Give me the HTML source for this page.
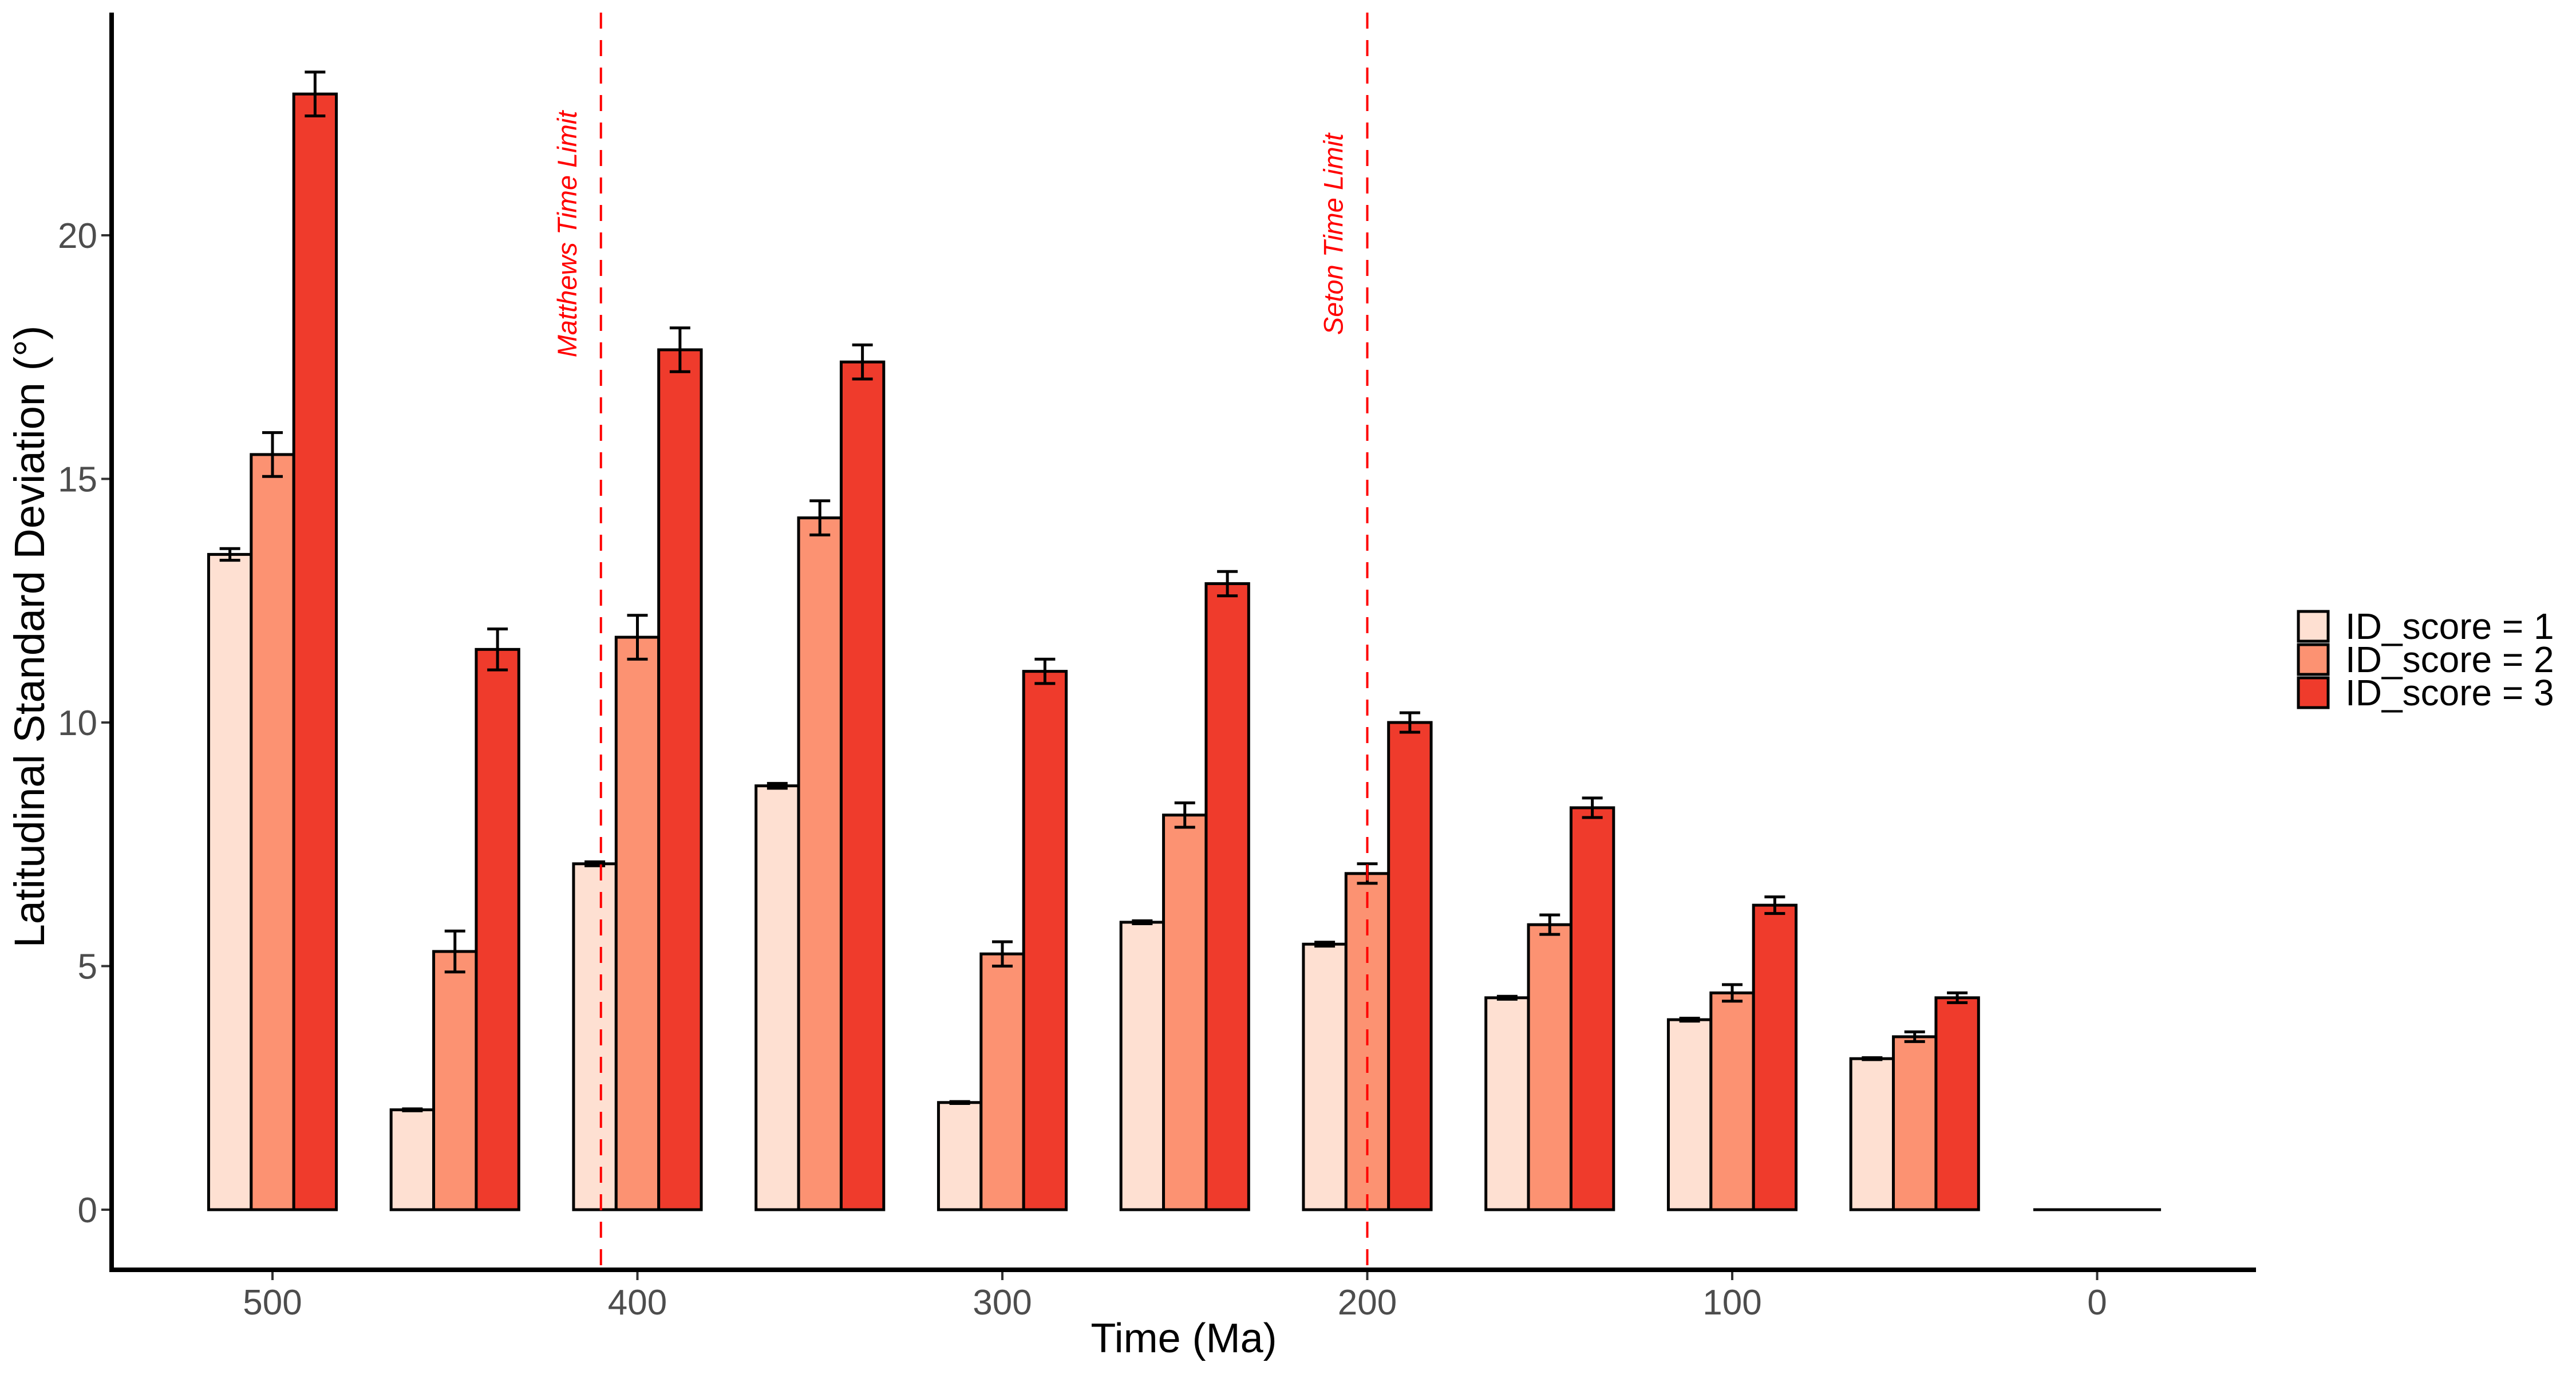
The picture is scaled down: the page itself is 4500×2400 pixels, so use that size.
<!DOCTYPE html>
<html><head><meta charset="utf-8"><style>html,body{margin:0;padding:0;background:#fff}svg{display:block}</style></head>
<body>
<svg id="chart" width="4500" height="2400" viewBox="0 0 4500 2400" xmlns="http://www.w3.org/2000/svg" font-family="'Liberation Sans', sans-serif">
<rect width="4500" height="2400" fill="#fff"/>
<g id="marks"></g>
<line x1="195" y1="22" x2="195" y2="2221" stroke="#000" stroke-width="8"/>
<line x1="191" y1="2218" x2="3941" y2="2218" stroke="#000" stroke-width="8"/>
<g id="axes"></g>
<text x="2068" y="2362" font-size="72" text-anchor="middle" fill="#000">Time (Ma)</text>
<text transform="translate(77,1112) rotate(-90)" font-size="74" text-anchor="middle" fill="#000">Latitudinal Standard Deviation (°)</text>
<g id="legend"></g>
</svg>
<script>
const categories = [500, 450, 400, 350, 300, 250, 200, 150, 100, 50, 0];
const series1 = [13.45, 2.05, 7.1, 8.7, 2.2, 5.9, 5.45, 4.35, 3.9, 3.1, 0];
const series2 = [15.5, 5.3, 11.75, 14.2, 5.25, 8.1, 6.9, 5.85, 4.45, 3.55, 0];
const series3 = [22.9, 11.5, 17.65, 17.4, 11.05, 12.85, 10.0, 8.25, 6.25, 4.35, 0];
const err1 = [0.12, 0.02, 0.04, 0.05, 0.02, 0.03, 0.04, 0.03, 0.03, 0.02, 0];
const err2 = [0.45, 0.42, 0.45, 0.35, 0.25, 0.25, 0.2, 0.2, 0.17, 0.1, 0];
const err3 = [0.45, 0.42, 0.45, 0.35, 0.25, 0.25, 0.2, 0.2, 0.17, 0.1, 0];
const seriesNames = ["ID_score = 1", "ID_score = 2", "ID_score = 3"];
const colors = ["#FEE0D2", "#FC9272", "#EF3B2C"];
const xTicks = [500, 400, 300, 200, 100, 0];
const yTicks = [0, 5, 10, 15, 20];
const vlines = [410, 200];
const vlineLabels = ["Matthews Time Limit", "Seton Time Limit"];

const NS = "http://www.w3.org/2000/svg";
const xS = v => 476 + (500 - v) * 6.375;
const yS = v => 2113 - v * 85.1;
const groupW = 50 * 6.375 * 0.7;
const barW = groupW / 3;
function mk(tag, attrs, parent) { const e = document.createElementNS(NS, tag); for (const k in attrs) e.setAttribute(k, attrs[k]); parent.appendChild(e); return e; }
const marks = document.getElementById("marks");
const axes = document.getElementById("axes");
const allS = [series1, series2, series3];
const allE = [err1, err2, err3];

categories.forEach((c, i) => {
  const cx = xS(c);
  if (series1[i] === 0 && series2[i] === 0 && series3[i] === 0) {
    const l = mk("line", {x1: cx - groupW / 2, x2: cx + groupW / 2, y1: yS(0), y2: yS(0), stroke: "#000", "stroke-width": 5}, marks);
    
    
    return;
  }
  for (let s = 0; s < 3; s++) {
    const v = allS[s][i];
    const x0 = cx - groupW / 2 + s * barW;
    const r = mk("rect", {x: x0, y: yS(v), width: barW, height: yS(0) - yS(v), fill: colors[s], stroke: "#000", "stroke-width": 5}, marks);
    
    
  }
});
categories.forEach((c, i) => {
  const cx = xS(c);
  for (let s = 0; s < 3; s++) {
    const v = allS[s][i], e = allE[s][i];
    if (v === 0) continue;
    const bx = cx - groupW / 2 + s * barW + barW / 2;
    const g = mk("g", {stroke: "#000", "stroke-width": 5}, marks);
    
    
    mk("line", {x1: bx, x2: bx, y1: yS(v + e), y2: yS(v - e)}, g);
    mk("line", {x1: bx - 18, x2: bx + 18, y1: yS(v + e), y2: yS(v + e)}, g);
    mk("line", {x1: bx - 18, x2: bx + 18, y1: yS(v - e), y2: yS(v - e)}, g);
  }
});
vlines.forEach((v, i) => {
  const x = xS(v);
  const l = mk("line", {x1: x, x2: x, y1: 22, y2: 2214, stroke: "#FF0000", "stroke-width": 4, "stroke-dasharray": "28 20"}, marks);
  
  
  const t = mk("text", {transform: "translate(" + (x - 43) + ",409) rotate(-90)", "font-size": 47, "font-style": "italic", fill: "#FF0000", "text-anchor": "middle"}, marks);
  t.textContent = vlineLabels[i];
  
  
});
xTicks.forEach(v => {
  const x = xS(v);
  const tk = mk("line", {x1: x, x2: x, y1: 2222, y2: 2236, stroke: "#333", "stroke-width": 4}, axes);
  
  
  const t = mk("text", {x: x, y: 2296, "font-size": 62, fill: "#4d4d4d", "text-anchor": "middle"}, axes);
  t.textContent = v;
  
  
});
yTicks.forEach(v => {
  const y = yS(v);
  const tk = mk("line", {x1: 177, x2: 191, y1: y, y2: y, stroke: "#333", "stroke-width": 4}, axes);
  
  
  const t = mk("text", {x: 170, y: y + 22, "font-size": 62, fill: "#4d4d4d", "text-anchor": "end"}, axes);
  t.textContent = v;
  
  
});
const legend = document.getElementById("legend");
seriesNames.forEach((n, i) => {
  const y = 1068 + i * 58;
  const g = mk("g", {}, legend);
  
  
  mk("rect", {x: 4015, y: y, width: 52, height: 52, fill: colors[i], stroke: "#000", "stroke-width": 5}, g);
  const t = mk("text", {x: 4097, y: y + 48, "font-size": 64, fill: "#000"}, g);
  t.textContent = n;
});
</script>
</body></html>
